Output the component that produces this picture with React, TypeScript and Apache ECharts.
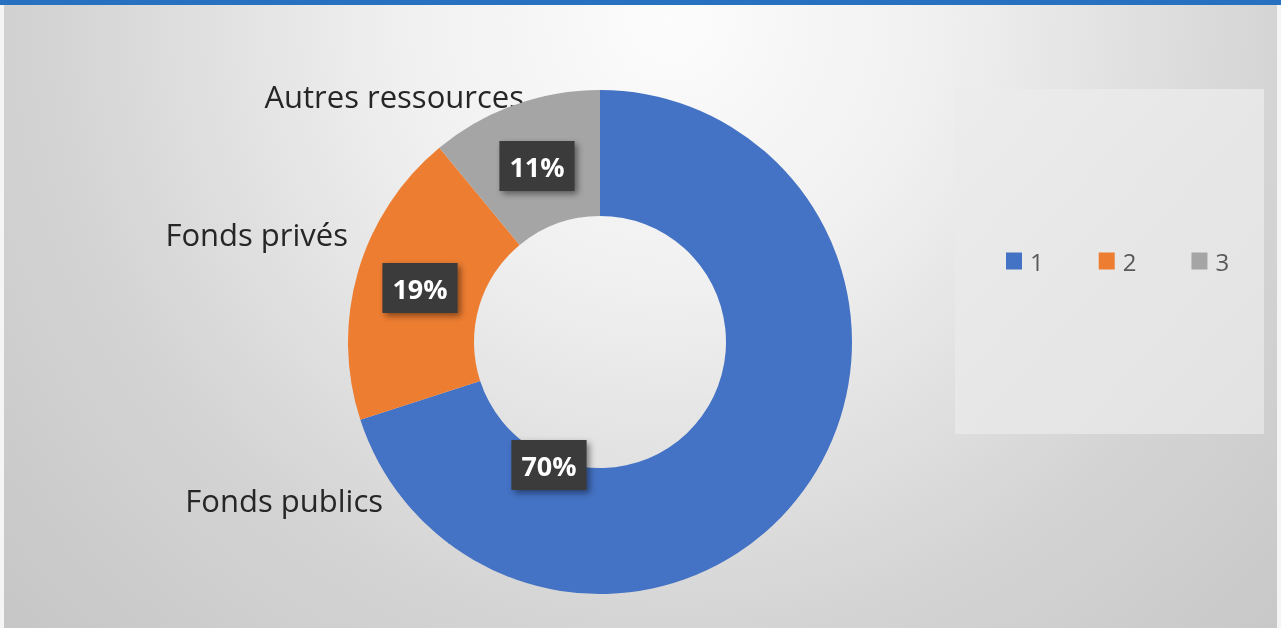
import React, { useEffect, useRef } from "react";
import * as echarts from "echarts";

const categories = ["Fonds publics", "Fonds privés", "Autres ressources"];
const values = [70, 19, 11];
const legendLabels = ["1", "2", "3"];
const colors = ["#4472C4", "#ED7D31", "#A5A5A5"];

const FONT = "'Open Sans', 'Noto Sans', sans-serif";

export default function App() {
  const ref = useRef<HTMLDivElement>(null);

  useEffect(() => {
    if (!ref.current) return;
    const chart = echarts.init(ref.current, null, { renderer: "svg" });
    const data = categories.map((name, i) => ({ name, value: values[i] }));

    // label placements (Excel-like custom positions)
    const pctPos: Record<number, [number, number]> = {
      0: [549, 465],
      1: [420, 288],
      2: [537, 166],
    };
    const namePos: Record<number, [number, number]> = {
      0: [383, 500],
      1: [348, 234],
      2: [524, 96],
    };

    chart.setOption({
      animation: false,
      color: colors,
      graphic: [
        {
          type: "rect",
          z: -10,
          silent: true,
          shape: { x: 0, y: 0, width: 1281, height: 628 },
          style: { fill: "#f5f5f5" },
        },
        {
          type: "rect",
          z: -9,
          silent: true,
          shape: { x: 4, y: 5, width: 1273, height: 623 },
          style: {
            fill: {
              type: "radial",
              x: 670,
              y: 20,
              r: 900,
              global: true,
              colorStops: [
                { offset: 0, color: "#fcfcfc" },
                { offset: 0.3, color: "#f0f0f0" },
                { offset: 0.68, color: "#d4d4d4" },
                { offset: 1, color: "#c6c6c6" },
              ],
            },
          },
        },
        {
          type: "rect",
          z: -8,
          silent: true,
          shape: { x: 0, y: 0, width: 1281, height: 5 },
          style: { fill: "#2672C0" },
        },
        {
          type: "rect",
          z: -7,
          silent: true,
          shape: { x: 955, y: 89, width: 309, height: 345 },
          style: {
            fill: {
              type: "linear",
              x: 0,
              y: 0,
              x2: 1,
              y2: 1,
              colorStops: [
                { offset: 0, color: "#ececec" },
                { offset: 1, color: "#e2e2e2" },
              ],
            },
          },
        },
      ],
      legend: {
        data: categories,
        left: 1006,
        top: 249,
        padding: 0,
        orient: "horizontal",
        icon: "rect",
        itemWidth: 16,
        itemHeight: 17,
        itemGap: 55,
        selectedMode: false,
        formatter: (name: string) => legendLabels[categories.indexOf(name)],
        textStyle: {
          fontFamily: FONT,
          fontSize: 24,
          color: "#595959",
          padding: [0, 0, 0, 3],
        },
      },
      series: [
        {
          type: "pie",
          center: [600, 342],
          radius: [126, 252],
          startAngle: 90,
          clockwise: true,
          avoidLabelOverlap: false,
          data,
          itemStyle: { borderWidth: 0 },
          emphasis: { disabled: true },
          label: {
            show: true,
            position: "inside",
            formatter: (p: any) => Math.round(p.percent) + "%",
            fontFamily: FONT,
            fontSize: 27,
            fontWeight: "bold",
            color: "#ffffff",
            lineHeight: 30,
            backgroundColor: "#3a3a3a",
            padding: [10, 10, 10, 10],
            shadowColor: "rgba(0,0,0,0.45)",
            shadowBlur: 6,
            shadowOffsetX: 3,
            shadowOffsetY: 3,
          },
          labelLayout: (p: any) => {
            const pos = pctPos[p.dataIndex];
            if (!pos) return {};
            return { x: pos[0], y: pos[1], align: "center", verticalAlign: "middle" };
          },
        },
        {
          type: "pie",
          center: [600, 342],
          radius: [126, 252],
          startAngle: 90,
          clockwise: true,
          silent: true,
          z: 1,
          data,
          itemStyle: { color: "rgba(0,0,0,0)" },
          emphasis: { disabled: true },
          labelLine: { show: false },
          label: {
            show: true,
            position: "outside",
            formatter: "{b}",
            fontFamily: FONT,
            fontSize: 31,
            color: "#262626",
          },
          labelLayout: (p: any) => {
            const pos = namePos[p.dataIndex];
            return { x: pos[0], y: pos[1], align: "right", verticalAlign: "middle" };
          },
        },
      ],
    });

    return () => chart.dispose();
  }, []);

  return (
    <div
      ref={ref}
      style={{ position: "fixed", left: 0, top: 0, width: 1281, height: 628 }}
    />
  );
}
